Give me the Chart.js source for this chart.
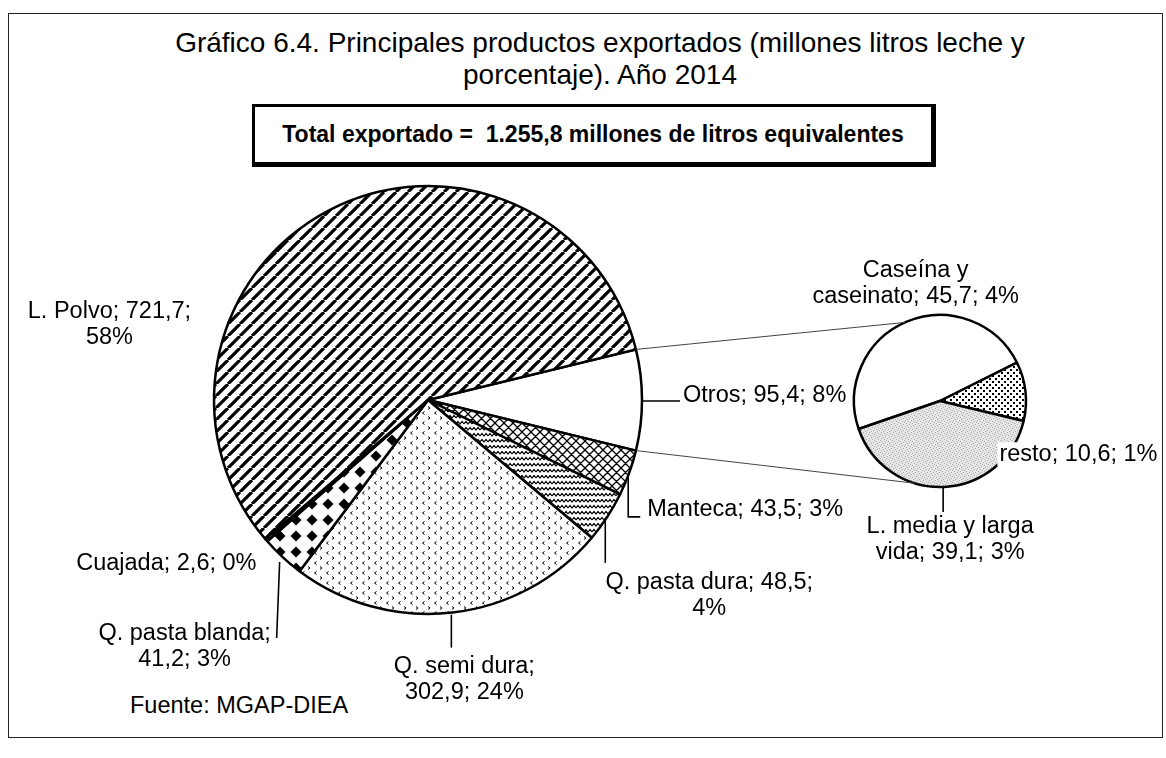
<!DOCTYPE html>
<html>
<head>
<meta charset="utf-8">
<script src="https://cdn.jsdelivr.net/npm/chart.js@4.4.0/dist/chart.umd.min.js"></script>
<style>
  body { margin: 0; background: #fff; }
  #wrap { position: relative; width: 1166px; height: 758px; overflow: hidden; font-family: "Liberation Sans", Arial, sans-serif; color: #000; }
  #frame { position: absolute; left: 8px; top: 13px; width: 1155px; height: 725px; border: 1.5px solid #222; box-sizing: border-box; }
  #title { position: absolute; left: 0; width: 1200px; top: 27px; text-align: center; font-size: 28px; line-height: 32px; }
  #box { position: absolute; left: 252px; top: 104px; width: 684px; height: 63px; box-sizing: border-box;
         border: 3px solid #000; border-right-width: 5px; border-bottom-width: 5px;
         font-weight: bold; font-size: 23px; line-height: 55px; text-align: center; }
  #fuente { position: absolute; left: 130px; top: 692px; font-size: 23.5px; line-height: 26px; }
  #main { position: absolute; left: 0; top: 0; z-index: 2; }
  #sub { position: absolute; left: 845px; top: 306px; z-index: 1; }
</style>
</head>
<body>
<div id="wrap">
  <div id="frame"></div>
  <div id="title">Gráfico 6.4. Principales productos exportados (millones litros leche y<br>porcentaje). Año 2014</div>
  <div id="box">Total exportado =&nbsp; 1.255,8 millones de litros equivalentes</div>
  <div id="fuente">Fuente: MGAP-DIEA</div>
  <canvas id="sub" width="190" height="190"></canvas>
  <canvas id="main" width="1166" height="758"></canvas>
</div>
<script>
// datos (millones de litros de leche equivalentes)
const mainLabels = ['Otros', 'Manteca', 'Q. pasta dura', 'Q. semi dura', 'Q. pasta blanda', 'Cuajada', 'L. Polvo'];
const mainValues = [95.4, 43.5, 48.5, 302.9, 41.2, 2.6, 721.7];
const mainPercent = ['8%', '3%', '4%', '24%', '3%', '0%', '58%'];

const subLabels = ['Caseína y caseinato', 'resto', 'L. media y larga vida'];
const subValues = [45.7, 10.6, 39.1];
const subPercent = ['4%', '1%', '3%'];

const labelFont = '23.5px "Liberation Sans", Arial, sans-serif';
const lineH = 26;

// tramas
function makePattern(w, h, draw, bg) {
  const c = document.createElement('canvas');
  c.width = w; c.height = h;
  const g = c.getContext('2d');
  g.fillStyle = bg || '#fff';
  g.fillRect(0, 0, w, h);
  g.strokeStyle = '#000';
  g.fillStyle = '#000';
  draw(g, w, h);
  return g.createPattern(c, 'repeat');
}

const rayas = makePattern(12, 12, (g, w, h) => {
  g.lineWidth = 3.2;
  g.beginPath();
  for (const k of [-w, 0, w]) { g.moveTo(k, h); g.lineTo(k + w, 0); }
  g.stroke();
});
const cuadricula = makePattern(9, 9, (g, w, h) => {
  g.lineWidth = 1.3;
  g.beginPath();
  for (const k of [-w, 0, w]) {
    g.moveTo(k, h); g.lineTo(k + w, 0);
    g.moveTo(k, 0); g.lineTo(k + w, h);
  }
  g.stroke();
});
const ondas = makePattern(8, 6, (g) => {
  g.lineWidth = 1.2;
  g.beginPath();
  g.moveTo(0, 4); g.lineTo(2, 1.5); g.lineTo(4, 4); g.lineTo(6, 1.5); g.lineTo(8, 4);
  g.stroke();
});
const chevrones = makePattern(12, 10, (g) => {
  g.lineWidth = 1;
  g.beginPath();
  g.moveTo(4.5, 1.5); g.lineTo(2.5, 3); g.lineTo(4.5, 4.5);
  g.moveTo(8, 6.5); g.lineTo(10, 8); g.lineTo(8, 9.5);
  g.stroke();
});
const diamantes = makePattern(16, 16, (g) => {
  g.beginPath();
  g.moveTo(8, 2.5); g.lineTo(13.5, 8); g.lineTo(8, 13.5); g.lineTo(2.5, 8);
  g.closePath();
  g.fill();
});
const horizontales = makePattern(4, 4, (g) => {
  g.fillRect(0, 1, 4, 1.5);
});
const puntos = makePattern(6, 6, (g) => {
  g.fillRect(0, 0, 2, 2);
  g.fillRect(3, 3, 2, 2);
});
const gris = makePattern(6, 6, (g) => {
  g.fillStyle = '#a8a8a8';
  [[0, 0], [3, 1], [1, 3], [4, 4], [5, 2], [2, 5]].forEach(p => g.fillRect(p[0], p[1], 1, 1));
}, '#e6e6e6');

const mainFills = ['#fff', cuadricula, ondas, chevrones, diamantes, horizontales, rayas];
const subFills = ['#fff', puntos, gris];

// posición de etiquetas respecto al borde del sector (punto medio del arco)
const mainLabelPos = [
  { dx: 41, dy: -4, align: 'left', leader: [[0, 1], [38, 1]] },
  { dx: 18, dy: 37, align: 'left', leader: [[-1, 2], [-1, 44], [11, 44]] },
  { dx: 102, dy: 66, align: 'center', words: 4, leader: [[-2, 4], [-2, 46]] },
  { dx: 12, dy: 54, align: 'center', words: 3, leader: [[-1, 2], [-1, 35]] },
  { dx: -98, dy: 76, align: 'center', words: 3, leader: [[-3, 5], [-6, 81]] },
  { dx: -100, dy: 23, align: 'center' },
  { dx: -221, dy: 102, align: 'center', words: 3 }
];
const subLabelPos = [
  { dx: 9, dy: -51, align: 'center', words: 2 },
  { dx: -26, dy: 63, align: 'left', bg: true },
  { dx: 6, dy: 40, align: 'center', words: 4, leader: [[-1, 1], [-1, 25]] }
];
// ángulos (grados) donde las líneas de unión tocan la torta secundaria
const connectorAngles = [-114, 107];

function fmt(v) { return v.toFixed(1).replace('.', ','); }

function drawLabel(ctx, arc, name, value, pct, pos) {
  const mid = (arc.startAngle + arc.endAngle) / 2;
  const rx = arc.x + Math.cos(mid) * arc.outerRadius;
  const ry = arc.y + Math.sin(mid) * arc.outerRadius;
  if (pos.leader) {
    ctx.save();
    ctx.strokeStyle = '#000';
    ctx.lineWidth = 1.6;
    ctx.beginPath();
    pos.leader.forEach((p, i) => {
      if (i === 0) ctx.moveTo(rx + p[0], ry + p[1]);
      else ctx.lineTo(rx + p[0], ry + p[1]);
    });
    ctx.stroke();
    ctx.restore();
  }
  const words = (name + '; ' + fmt(value) + '; ' + pct).split(' ');
  const lines = pos.words ? [words.slice(0, pos.words).join(' '), words.slice(pos.words).join(' ')] : [words.join(' ')];
  ctx.save();
  ctx.font = labelFont;
  ctx.textAlign = pos.align;
  ctx.textBaseline = 'middle';
  lines.forEach((t, i) => {
    const x = rx + pos.dx;
    const y = ry + pos.dy + i * lineH;
    if (pos.bg) {
      const w = ctx.measureText(t).width;
      ctx.fillStyle = '#fff';
      ctx.fillRect(x - 2, y - 12, w + 4, 24);
    }
    ctx.fillStyle = '#000';
    ctx.fillText(t, x, y);
  });
  ctx.restore();
}

const total = mainValues.reduce((a, b) => a + b, 0);
const otrosAngle = mainValues[0] / total * 360;

// torta secundaria (desglose de "Otros")
const subChart = new Chart(document.getElementById('sub'), {
  type: 'pie',
  data: {
    labels: subLabels,
    datasets: [{ data: subValues, backgroundColor: subFills, borderColor: '#000', borderWidth: 2.5 }]
  },
  options: {
    responsive: false,
    animation: false,
    events: [],
    radius: 86,
    rotation: 251,
    layout: { padding: 0 },
    plugins: { legend: { display: false }, tooltip: { enabled: false } }
  }
});

const etiquetas = {
  id: 'etiquetas',
  afterDraw(chart) {
    const ctx = chart.ctx;
    const arcs = chart.getDatasetMeta(0).data;
    const subArcs = subChart.getDatasetMeta(0).data;
    const sub = subArcs[0];
    const subCanvas = subChart.canvas;
    const ox = subCanvas.offsetLeft, oy = subCanvas.offsetTop;
    const otros = arcs[0];

    // líneas de unión
    ctx.save();
    ctx.strokeStyle = '#444';
    ctx.lineWidth = 1;
    ctx.beginPath();
    [otros.startAngle, otros.endAngle].forEach((a, i) => {
      const b = connectorAngles[i] * Math.PI / 180;
      ctx.moveTo(otros.x + Math.cos(a) * otros.outerRadius, otros.y + Math.sin(a) * otros.outerRadius);
      ctx.lineTo(ox + sub.x + Math.cos(b) * sub.outerRadius, oy + sub.y + Math.sin(b) * sub.outerRadius);
    });
    ctx.stroke();
    ctx.restore();

    arcs.forEach((arc, i) => drawLabel(ctx, arc, mainLabels[i], mainValues[i], mainPercent[i], mainLabelPos[i]));
    subArcs.forEach((arc, i) => {
      const a = { x: ox + arc.x, y: oy + arc.y, startAngle: arc.startAngle, endAngle: arc.endAngle, outerRadius: arc.outerRadius };
      drawLabel(ctx, a, subLabels[i], subValues[i], subPercent[i], subLabelPos[i]);
    });
  }
};

const mainChart = new Chart(document.getElementById('main'), {
  type: 'pie',
  data: {
    labels: mainLabels,
    datasets: [{ data: mainValues, backgroundColor: mainFills, borderColor: '#000', borderWidth: 2.5 }]
  },
  options: {
    responsive: false,
    animation: false,
    events: [],
    radius: 214,
    rotation: 90 - otrosAngle / 2,
    layout: { padding: { left: 0, right: 310, top: 186, bottom: 144 } },
    plugins: { legend: { display: false }, tooltip: { enabled: false } }
  },
  plugins: [etiquetas]
});
</script>
</body>
</html>
